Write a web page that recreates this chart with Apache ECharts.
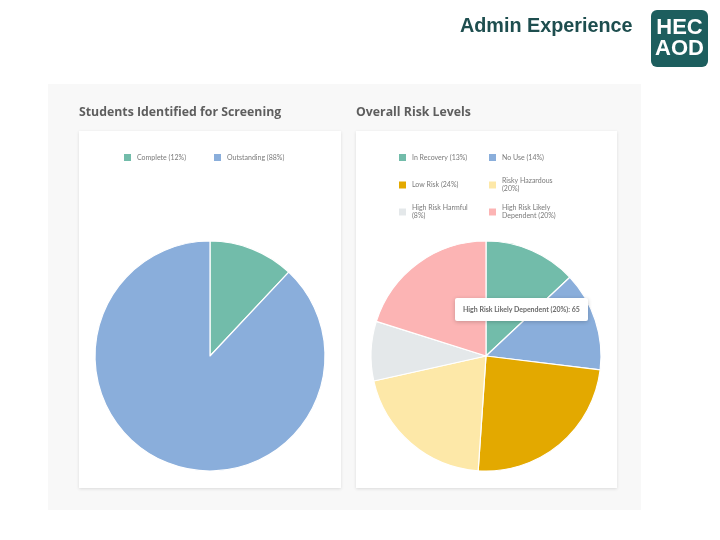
<!DOCTYPE html>
<html>
<head>
<meta charset="utf-8">
<script src="https://cdn.jsdelivr.net/npm/echarts@6/dist/echarts.min.js"></script>
<style>
  html, body { margin: 0; padding: 0; background: #fff; }
  #main { width: 720px; height: 540px; }
</style>
</head>
<body>
<div id="main"></div>
<script>
// screening pie
var screenNames = ['Complete (12%)', 'Outstanding (88%)'];
var screenValues = [12, 88];
var screenColors = ['#72bcaa', '#8aaedb'];

// risk pie
var riskNames = ['In Recovery (13%)', 'No Use (14%)', 'Low Risk (24%)', 'Risky Hazardous (20%)', 'High Risk Harmful (8%)', 'High Risk Likely Dependent (20%)'];
var riskValues = [42, 45, 78, 66, 27, 65];
var riskColors = ['#72bcaa', '#8aaedb', '#e3a900', '#fde8a8', '#e4e8ea', '#fcb4b4'];

var chart = echarts.init(document.getElementById('main'));

function toData(names, values, colors) {
  return names.map(function (n, i) {
    return { name: n, value: values[i], itemStyle: { color: colors[i] } };
  });
}

var legendText = {
  fontSize: 7,
  color: '#7a7a7a',
  fontFamily: 'Lato',
  width: 58,
  overflow: 'break',
  lineHeight: 8
};

function legend(left, top, data) {
  return {
    left: left, top: top, padding: 0,
    orient: 'horizontal',
    icon: 'rect', itemWidth: 9, itemHeight: 9,
    itemGap: 17,
    selectedMode: false,
    textStyle: legendText,
    data: data
  };
}

chart.setOption({
  animation: false,
  graphic: [
    { type: 'rect', shape: { x: 48, y: 84, width: 593, height: 426 }, style: { fill: '#f8f8f8' }, z: -10 },
    { type: 'rect', shape: { x: 79, y: 131, width: 262, height: 357 },
      style: { fill: '#fff', shadowBlur: 3, shadowColor: 'rgba(0,0,0,0.12)', shadowOffsetY: 1 }, z: -5 },
    { type: 'rect', shape: { x: 356, y: 131, width: 261, height: 357 },
      style: { fill: '#fff', shadowBlur: 3, shadowColor: 'rgba(0,0,0,0.12)', shadowOffsetY: 1 }, z: -5 },
    { type: 'text', left: 79, top: 106,
      style: { text: 'Students Identified for Screening', fill: '#5e5e5e', font: 'bold 12.3px "Open Sans"' } },
    { type: 'text', left: 356, top: 106,
      style: { text: 'Overall Risk Levels', fill: '#5e5e5e', font: 'bold 12.3px "Open Sans"' } },
    { type: 'text', left: 460, top: 17,
      style: { text: 'Admin Experience', fill: '#1e4e4f', font: 'bold 19.8px "Liberation Sans"' } },
    { type: 'rect', shape: { x: 651, y: 10, width: 57, height: 57, r: 6 }, style: { fill: '#1d5e5e' } },
    { type: 'text', x: 679.5, y: 28,
      style: { text: 'HEC', fill: '#fff', font: 'bold 22px "Liberation Sans"', align: 'center', verticalAlign: 'middle' } },
    { type: 'text', x: 679.5, y: 49,
      style: { text: 'AOD', fill: '#fff', font: 'bold 22px "Liberation Sans"', align: 'center', verticalAlign: 'middle' } }
  ],
  tooltip: {
    trigger: 'item',
    triggerOn: 'none',
    alwaysShowContent: true,
    backgroundColor: '#fff',
    borderWidth: 0,
    padding: [6, 8],
    extraCssText: 'box-shadow: 0 1px 4px rgba(0,0,0,0.2); border-radius: 2px;',
    textStyle: { fontSize: 7, fontWeight: 'bold', color: '#6a6a6a', fontFamily: 'Lato' },
    formatter: '{b}: {c}',
    position: function () { return [455, 298]; }
  },
  legend: [
    legend(122, 152, screenNames),
    legend(397, 152, riskNames.slice(0, 2)),
    legend(397, 177, riskNames.slice(2, 4)),
    legend(397, 204, riskNames.slice(4, 6))
  ],
  series: [
    {
      type: 'pie',
      center: [210, 356],
      radius: 115,
      label: { show: false },
      labelLine: { show: false },
      emphasis: { disabled: true },
      itemStyle: { borderColor: '#fff', borderWidth: 1.2 },
      data: toData(screenNames, screenValues, screenColors)
    },
    {
      type: 'pie',
      center: [486, 356],
      radius: 115,
      label: { show: false },
      labelLine: { show: false },
      emphasis: { disabled: true },
      itemStyle: { borderColor: '#fff', borderWidth: 1.2 },
      data: toData(riskNames, riskValues, riskColors)
    }
  ]
});

chart.dispatchAction({ type: 'showTip', seriesIndex: 1, dataIndex: 5 });
</script>
</body>
</html>
